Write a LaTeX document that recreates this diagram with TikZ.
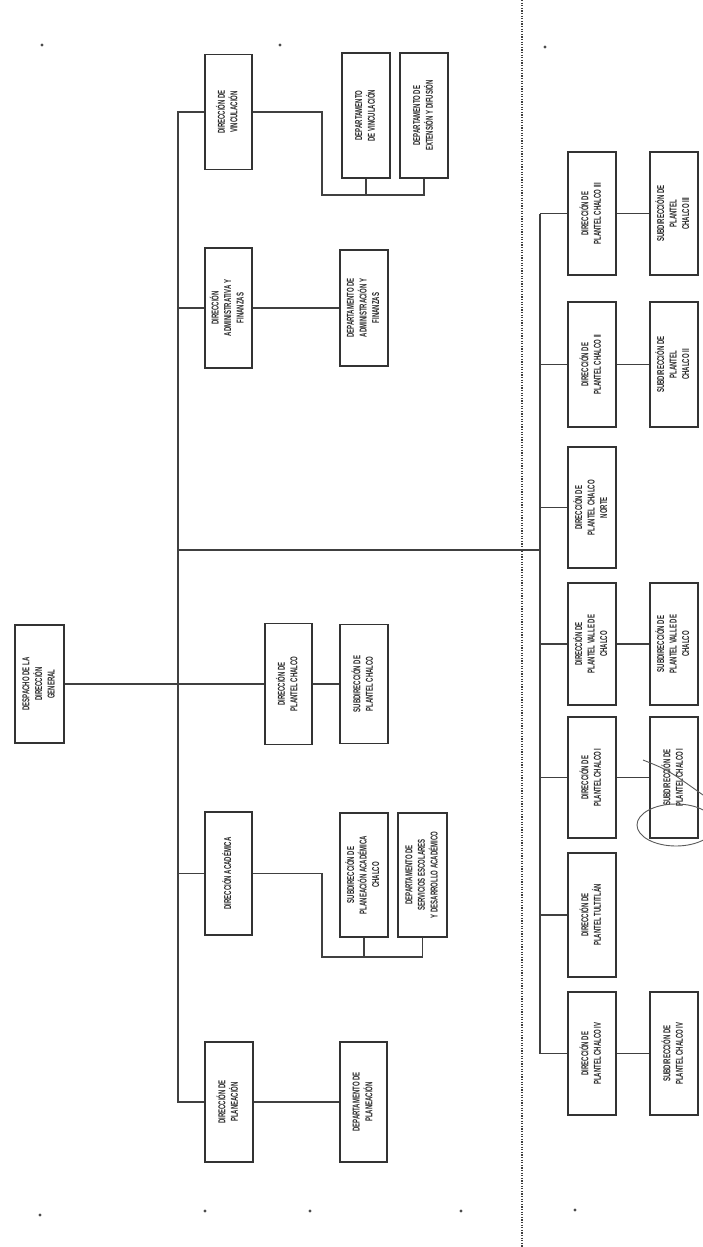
\documentclass[tikz,border=0pt]{standalone}
\usepackage{fontspec}
\setmainfont{Liberation Sans}
\usepackage{graphicx}
\newcommand{\rt}[1]{\rotatebox{90}{\scalebox{0.6}[1]{\begin{tabular}{@{}c@{}}#1\end{tabular}}}}
\tikzset{
  bx/.style 2 args={draw=black!80, line width=1.4pt, fill=white, inner sep=0pt,
    minimum width=#1pt, minimum height=#2pt,
    font=\fontsize{10}{12.5}\selectfont\bfseries, text=black!85},
  conn/.style={draw=black!75, line width=1.1pt},
  speck/.style={fill=black!70},
  hand/.style={draw=black!65, line width=0.9pt}
}
\begin{document}
\begin{tikzpicture}[x=1pt,y=-1pt]
\fill[white] (0,0) rectangle (703,1247);
\useasboundingbox (0,0) rectangle (703,1247);

% dotted divider
\draw[black!75, line width=1.5pt, dash pattern=on 1.2pt off 1.4pt] (522,0) -- (522,1247);

% top level
\node[bx={49}{118}] (top) at (39.5,684) {\rt{DESPACHO DE LA\\DIRECCIÓN\\GENERAL}};

% directions
\node[bx={47}{115}] (vinc) at (228.5,112) {\rt{DIRECCIÓN DE\\VINCULACIÓN}};
\node[bx={47}{120}] (adm) at (228.5,308) {\rt{DIRECCIÓN\\ADMINISTRATIVA Y\\FINANZAS}};
\node[bx={47}{121}] (chalco) at (288.5,684) {\rt{DIRECCIÓN DE\\PLANTEL CHALCO}};
\node[bx={47}{123}] (acad) at (228.5,873.5) {\rt{DIRECCIÓN ACADÉMICA}};
\node[bx={48}{120}] (plan) at (229,1102) {\rt{DIRECCIÓN DE\\PLANEACIÓN}};

% departments
\node[bx={48}{125}] (vd1) at (366,115.5) {\rt{DEPARTAMENTO\\DE VINCULACIÓN}};
\node[bx={48}{125}] (vd2) at (424,115.5) {\rt{DEPARTAMENTO DE\\EXTENSIÓN Y DIFUSIÓN}};
\node[bx={48}{116}] (admd) at (364,308) {\rt{DEPARTAMENTO DE\\ADMINISTRACIÓN Y\\FINANZAS}};
\node[bx={48}{119}] (chsub) at (364,684) {\rt{SUBDIRECCIÓN DE\\PLANTEL CHALCO}};
\node[bx={48}{124}] (ad1) at (364,875) {\rt{SUBDIRECCIÓN DE\\PLANEACIÓN ACADÉMICA\\CHALCO}};
\node[bx={49}{124}] (ad2) at (422.5,875) {\rt{DEPARTAMENTO DE\\SERVICIOS ESCOLARES\\Y DESARROLLO ACADÉMICO}};
\node[bx={47}{120}] (pland) at (363.5,1102) {\rt{DEPARTAMENTO DE\\PLANEACIÓN}};

% lower directors and subdirectors
\node[bx={48}{123}] (d1) at (592,213.5) {\rt{DIRECCIÓN DE\\PLANTEL CHALCO III}};
\node[bx={48}{123}] (s1) at (674,213.5) {\rt{SUBDIRECCIÓN DE\\PLANTEL\\CHALCO III}};
\node[bx={48}{125}] (d2) at (592,364.5) {\rt{DIRECCIÓN DE\\PLANTEL CHALCO II}};
\node[bx={48}{125}] (s2) at (674,364.5) {\rt{SUBDIRECCIÓN DE\\PLANTEL\\CHALCO II}};
\node[bx={48}{121}] (d3) at (592,507.5) {\rt{DIRECCIÓN DE\\PLANTEL CHALCO\\NORTE}};
\node[bx={48}{122}] (d4) at (592,644) {\rt{DIRECCIÓN DE\\PLANTEL VALLE DE\\CHALCO}};
\node[bx={48}{122}] (s4) at (674,644) {\rt{SUBDIRECCIÓN DE\\PLANTEL VALLE DE\\CHALCO}};
\node[bx={48}{121}] (d5) at (592,777.5) {\rt{DIRECCIÓN DE\\PLANTEL CHALCO I}};
\node[bx={48}{121}] (s5) at (674,777.5) {\rt{SUBDIRECCIÓN DE\\PLANTEL CHALCO I}};
\node[bx={48}{124}] (d6) at (592,915) {\rt{DIRECCIÓN DE\\PLANTEL TULTITLÁN}};
\node[bx={48}{123}] (d7) at (592,1053.5) {\rt{DIRECCIÓN DE\\PLANTEL CHALCO IV}};
\node[bx={48}{123}] (s7) at (674,1053.5) {\rt{SUBDIRECCIÓN DE\\PLANTEL CHALCO IV}};

% bus coordinates
\coordinate (b1) at (178,112);
\coordinate (b5) at (178,1102);
\coordinate (m1) at (178,550);
\coordinate (m2) at (540,550);
\coordinate (vj) at (322,195);
\coordinate (aj) at (322,957);

% connectors
\draw[conn] (vinc.west) -- (b1) -- (b5) -- (plan.west);
\draw[conn] (adm.west) -- (adm.west -| b1);
\draw[conn] (acad.west) -- (acad.west -| b1);
\draw[conn] (top.east) -- (chalco.west);
\draw[conn] (chalco.east) -- (chsub.west);
\draw[conn] (adm.east) -- (admd.west);
\draw[conn] (plan.east) -- (pland.west);
\draw[conn] (vinc.east) -| (vj) -| (vd2.south);
\draw[conn] (vd1.south) -- (vd1.south |- vj);
\draw[conn] (acad.east) -| (aj) -| (ad2.south);
\draw[conn] (ad1.south) -- (ad1.south |- aj);
\draw[conn] (m1) -- (m2);
\draw[conn] (d1.west -| m2) -- (d7.west -| m2);
\foreach \k in {1,...,7} { \draw[conn] (d\k.west) -- (d\k.west -| m2); }
\foreach \k in {1,2,4,5,7} { \draw[conn] (d\k.east) -- (s\k.west); }

% hand marks
\begin{scope}
\clip (0,0) rectangle (703,1247);
\draw[hand] (676,825) ellipse [x radius=39, y radius=21];
\draw[hand] (643,760) .. controls (668,770) .. (703,795);
\end{scope}

% scan specks
\foreach \p in {(42,45),(280,45),(545,47),(40,1215),(205,1211),(310,1211),(461,1211),(575,1210)} {\fill[speck] \p circle (1.6);}
\end{tikzpicture}
\end{document}
